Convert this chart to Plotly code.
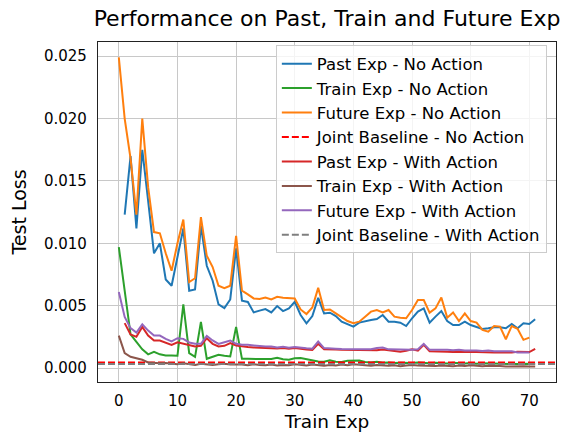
import plotly.graph_objects as go

# Test loss per training experience, with and without actions
past_no_action = [
    0.0123, 0.0170, 0.0112, 0.0175, 0.0134, 0.0092, 0.0100, 0.0071, 0.0066, 0.0089,
    0.0112, 0.0062, 0.0063, 0.0114, 0.0082, 0.0070, 0.0051, 0.0048, 0.0055, 0.0096,
    0.0054, 0.0053, 0.00446, 0.0046, 0.00473, 0.00446, 0.00497, 0.00457, 0.00478, 0.00531,
    0.00425, 0.00359, 0.00417, 0.00563, 0.00438, 0.00444, 0.00417, 0.00372, 0.00351, 0.00332,
    0.00364, 0.00377, 0.00385, 0.00393, 0.00425, 0.00372, 0.00372, 0.00364, 0.00337, 0.00399,
    0.00452, 0.00478, 0.00364, 0.00412, 0.00457, 0.00377, 0.00345, 0.00345, 0.00372, 0.00345,
    0.00332, 0.00314, 0.00319, 0.00327, 0.00327, 0.00319, 0.00353, 0.00319, 0.00359, 0.00353,
    0.00391,
]
train_no_action = [
    0.0097, 0.0060, 0.0027, 0.0021, 0.0015, 0.0011, 0.0013, 0.0011, 0.0010, 0.0010,
    0.00098, 0.0051, 0.0012, 0.0009, 0.0037, 0.00074, 0.00088, 0.00106, 0.00098, 0.00093,
    0.0033, 0.00074, 0.00074, 0.00072, 0.0007, 0.00068, 0.00072, 0.00082, 0.0007, 0.00066,
    0.00078, 0.0008, 0.00072, 0.00058, 0.00052, 0.0005, 0.00062, 0.0005, 0.00048, 0.00058,
    0.00056, 0.0006, 0.00048, 0.00045, 0.0005, 0.00042, 0.00045, 0.0004, 0.00042, 0.00038,
    0.0004, 0.00045, 0.0004, 0.00038, 0.00042, 0.0004, 0.00036, 0.00042, 0.00038, 0.00036,
    0.0004, 0.00035, 0.00038, 0.00034, 0.00036, 0.00035, 0.00033, 0.00036, 0.00032, 0.00034,
    0.00032, 0.00033,
]
future_no_action = [
    0.0249, 0.0200, 0.0168, 0.0123, 0.0200, 0.0145, 0.0109, 0.0108, 0.0092, 0.0078,
    0.0100, 0.0119, 0.0069, 0.0072, 0.0121, 0.0090, 0.0081, 0.0066, 0.0064, 0.0066,
    0.0106, 0.0062, 0.0059, 0.00558, 0.00553, 0.00566, 0.0055, 0.00571, 0.00563, 0.00563,
    0.00558, 0.0047, 0.00433, 0.00486, 0.00643, 0.00465, 0.0047, 0.00438, 0.00404, 0.00377,
    0.00359, 0.00372, 0.00412, 0.00452, 0.00465, 0.00446, 0.00465, 0.00412, 0.00404, 0.00399,
    0.00465, 0.00545, 0.00545, 0.00444, 0.00478, 0.00566, 0.00404, 0.00446, 0.00377, 0.00438,
    0.00377, 0.00364, 0.00306, 0.00292, 0.00337, 0.00332, 0.00231, 0.00337, 0.00314, 0.00226,
    0.00244,
]
joint_no_action = 0.00045

past_with_action = [
    0.0036, 0.0027, 0.0025, 0.0033, 0.0026, 0.0022, 0.0022, 0.00205, 0.00186, 0.00207,
    0.00194, 0.00181, 0.00173, 0.00178, 0.00239, 0.00194, 0.00173, 0.00178, 0.0020, 0.00181,
    0.00173, 0.00168, 0.00165, 0.00162, 0.00163, 0.0016, 0.00157, 0.0016, 0.00155, 0.0016,
    0.00152, 0.00148, 0.00145, 0.00194, 0.0015, 0.00152, 0.00148, 0.00146, 0.00145, 0.00146,
    0.00144, 0.00143, 0.00145, 0.00142, 0.00148, 0.0014, 0.00135, 0.0013, 0.00138, 0.0015,
    0.0014, 0.00186, 0.00135, 0.00135, 0.0013, 0.0013, 0.00128, 0.0013, 0.00127, 0.0013,
    0.00128, 0.00125, 0.00127, 0.00125, 0.00125, 0.00122, 0.00125, 0.0013, 0.00127, 0.00128,
    0.00154,
]
train_with_action = [
    0.0026, 0.0012, 0.0009, 0.0008, 0.00066, 0.00045, 0.0004, 0.00038, 0.0004, 0.00035,
    0.0003, 0.00038, 0.0003, 0.00025, 0.00035, 0.00028, 0.00025, 0.0003, 0.00035, 0.00028,
    0.0003, 0.00028, 0.00022, 0.0003, 0.00025, 0.00022, 0.00028, 0.0002, 0.00025, 0.00022,
    0.0003, 0.00025, 0.0002, 0.00028, 0.00022, 0.00018, 0.00025, 0.0002, 0.00028, 0.00022,
    0.0003, 0.00025, 0.0002, 0.00018, 0.00025, 0.0002, 0.00018, 0.00022, 0.00015, 0.0002,
    0.00025, 0.0002, 0.00018, 0.00022, 0.00016, 0.0002, 0.00018, 0.00015, 0.0002, 0.00017,
    0.00022, 0.00016, 0.00015, 0.00018, 0.00014, 0.00016, 0.00013, 0.00015, 0.00012, 0.00014,
    0.00012, 0.00013,
]
future_with_action = [
    0.0061, 0.0041, 0.0032, 0.00285, 0.0035, 0.0030, 0.0026, 0.0026, 0.00234, 0.00213,
    0.00239, 0.00234, 0.00205, 0.00194, 0.00194, 0.00258, 0.00221, 0.00194, 0.00207, 0.00221,
    0.00194, 0.00186, 0.00186, 0.0018, 0.00175, 0.00172, 0.00172, 0.00165, 0.0017, 0.00162,
    0.00168, 0.0016, 0.00158, 0.00155, 0.00213, 0.0016, 0.0016, 0.00155, 0.00153, 0.00152,
    0.00152, 0.0015, 0.00152, 0.0015, 0.0016, 0.00165, 0.0015, 0.00148, 0.00146, 0.0015,
    0.00146, 0.0015, 0.00194, 0.00146, 0.00146, 0.0015, 0.00146, 0.00142, 0.00146, 0.0014,
    0.00142, 0.0014, 0.00137, 0.0014, 0.00135, 0.00137, 0.00133, 0.00135, 0.00125, 0.00122,
    0.00125,
]
joint_with_action = 0.00032

# Past losses start at experience 1, future losses end at experience 70
past_x = list(range(1, 1 + len(past_no_action)))
train_x = list(range(len(train_no_action)))
future_x = list(range(len(future_no_action)))

x_ticks = [0, 10, 20, 30, 40, 50, 60, 70]
y_ticks = [0.0, 0.005, 0.010, 0.015, 0.020, 0.025]

# Autoscale with 5% padding on each side
x_lo, x_hi = min(train_x), max(train_x)
x_pad = 0.05 * (x_hi - x_lo)
x_range = [x_lo - x_pad, x_hi + x_pad]
all_y = (past_no_action + train_no_action + future_no_action + past_with_action
         + train_with_action + future_with_action)
y_lo, y_hi = min(all_y), max(all_y)
y_pad = 0.05 * (y_hi - y_lo)
y_range = [y_lo - y_pad, y_hi + y_pad]

FONT = "DejaVu Sans"
LW = 2

fig = go.Figure()


def add_line(x, y, name, color, dash="solid"):
    fig.add_trace(go.Scatter(x=x, y=y, mode="lines", name=name,
                             line=dict(color=color, width=LW, dash=dash)))


add_line(past_x, past_no_action, "Past Exp - No Action", "#1f77b4")
add_line(train_x, train_no_action, "Train Exp - No Action", "#2ca02c")
add_line(future_x, future_no_action, "Future Exp - No Action", "#ff7f0e")
add_line(x_range, [joint_no_action] * 2, "Joint Baseline - No Action", "#ff0000", "7px,3px")
add_line(past_x, past_with_action, "Past Exp - With Action", "#d62728")
add_line(train_x, train_with_action, "Train Exp - With Action", "#8c564b")
add_line(future_x, future_with_action, "Future Exp - With Action", "#9467bd")
add_line(x_range, [joint_with_action] * 2, "Joint Baseline - With Action", "#7f7f7f", "7px,3px")

axis_common = dict(
    showline=True, mirror=True, linecolor="#222222", linewidth=1.2,
    showgrid=True, gridcolor="#c8c8c8", gridwidth=1.2,
    zeroline=False, ticks="", automargin=False,
    tickfont=dict(family=FONT, size=15, color="black"),
)

fig.update_layout(
    width=573, height=432,
    margin=dict(l=98, r=17, t=42, b=50),
    paper_bgcolor="white", plot_bgcolor="white",
    font=dict(family=FONT, color="black"),
    title=dict(text="Performance on Past, Train and Future Exp",
               font=dict(family=FONT, size=22, color="black"),
               x=0.5, xref="paper", xanchor="center",
               y=1 - 18 / 432, yref="container", yanchor="middle"),
    xaxis=dict(range=x_range, tickvals=x_ticks, ticklabelstandoff=5,
               title=dict(text="Train Exp", font=dict(family=FONT, size=18.5), standoff=10),
               **axis_common),
    yaxis=dict(range=y_range, tickvals=y_ticks, tickformat=".3f", ticklabelstandoff=7,
               title=dict(text="Test Loss", font=dict(family=FONT, size=19), standoff=12),
               **axis_common),
    legend=dict(x=0.98, y=0.99, xanchor="right", yanchor="top",
                bgcolor="rgba(255,255,255,0.8)", bordercolor="#cccccc", borderwidth=1,
                font=dict(family=FONT, size=16.5, color="black")),
    showlegend=True,
)

fig.write_html("out.html")
